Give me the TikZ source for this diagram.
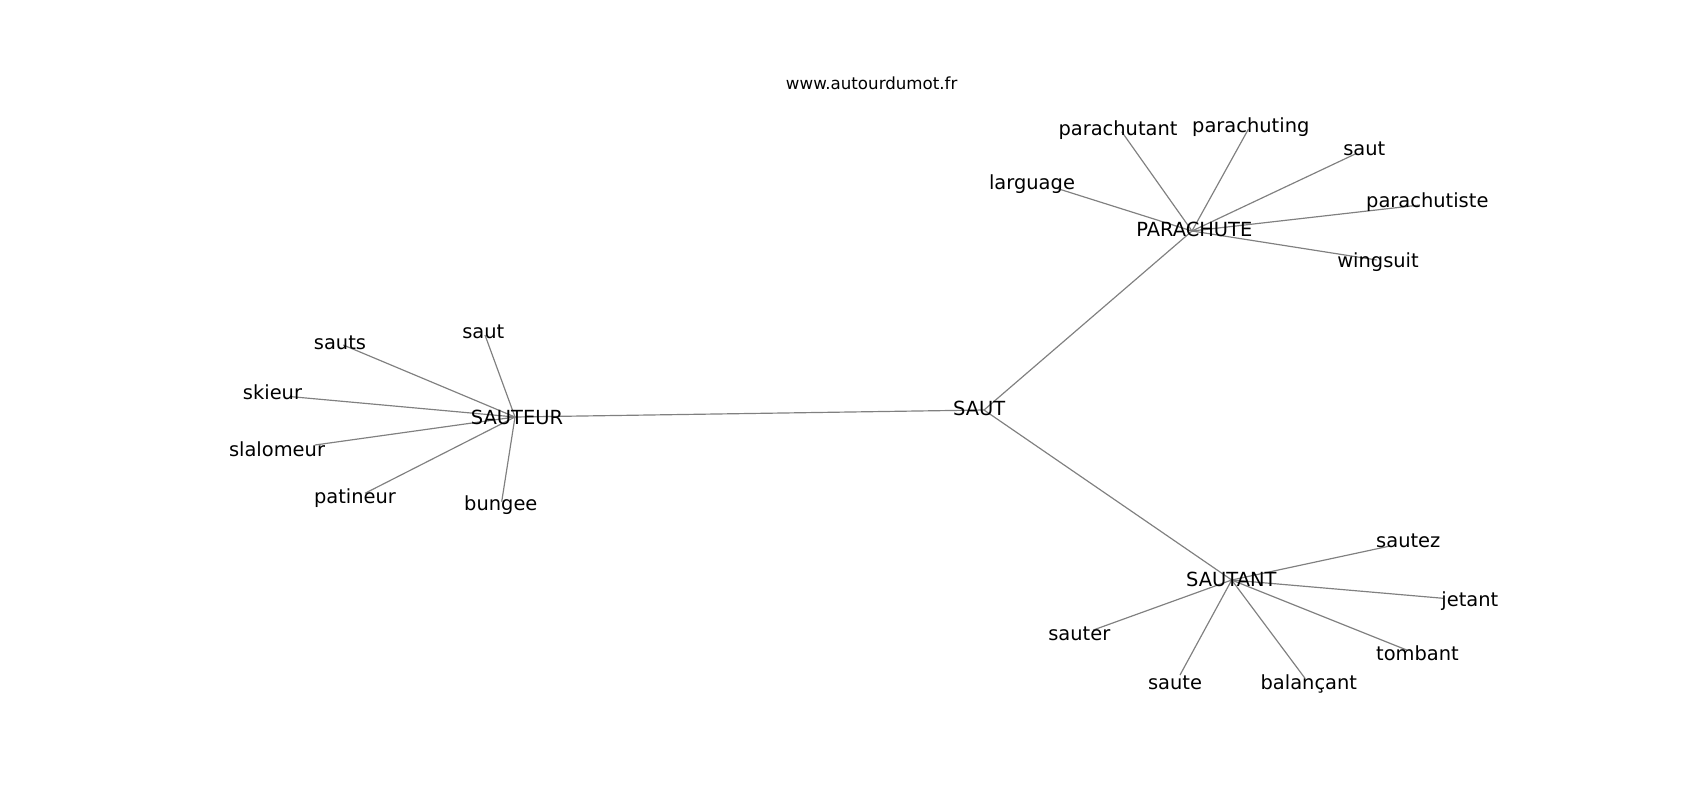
\documentclass[tikz,border=0pt]{standalone}
\usepackage{fontspec}
\setmainfont{DejaVu Sans}
\begin{document}
\begin{tikzpicture}[x=0.72pt,y=-0.72pt,
  lbl/.style={anchor=base,inner sep=0pt,yshift=-0.7pt,font=\fontsize{14}{16}\selectfont,text=black},
  site/.style={anchor=base,inner sep=0pt,yshift=-0.7pt,font=\fontsize{12}{14}\selectfont,text=black},
  edge/.style={draw={rgb,255:red,128;green,128;blue,128},line width=0.85pt}]
\useasboundingbox (0,0) rectangle (1700,800);
% hub points
\coordinate (pSAUT) at (984,410);
\coordinate (pSAUTEUR) at (515,417);
\coordinate (pPARACHUTE) at (1192,231);
\coordinate (pSAUTANT) at (1231.7,580);
% leaf points
\coordinate (pSautL) at (485,335);
\coordinate (pSauts) at (343.3,345);
\coordinate (pSkieur) at (291.7,396.7);
\coordinate (pSlalomeur) at (315,445);
\coordinate (pPatineur) at (365,493.3);
\coordinate (pBungee) at (501.7,501.7);
\coordinate (pLarguage) at (1056.7,188.3);
\coordinate (pParachutant) at (1121.7,131.7);
\coordinate (pParachuting) at (1248.3,129.3);
\coordinate (pSautR) at (1356.7,153.3);
\coordinate (pParachutiste) at (1420,205);
\coordinate (pWingsuit) at (1376.7,260);
\coordinate (pSautez) at (1390,546);
\coordinate (pJetant) at (1443.3,598.3);
\coordinate (pTombant) at (1406.7,650);
\coordinate (pBalancant) at (1305,678.3);
\coordinate (pSaute) at (1180,675);
\coordinate (pSauter) at (1093.3,630);
% edges
\draw[edge] (pSAUTEUR) -- (pSAUT);
\draw[edge] (pSAUT) -- (pPARACHUTE);
\draw[edge] (pSAUT) -- (pSAUTANT);
\foreach \p in {pSautL,pSauts,pSkieur,pSlalomeur,pPatineur,pBungee}
  \draw[edge] (pSAUTEUR) -- (\p);
\foreach \p in {pLarguage,pParachutant,pParachuting,pSautR,pParachutiste,pWingsuit}
  \draw[edge] (pPARACHUTE) -- (\p);
\foreach \p in {pSautez,pJetant,pTombant,pBalancant,pSaute,pSauter}
  \draw[edge] (pSAUTANT) -- (\p);
% labels
\node[site] (site) at (871.7,88.3) {www.autourdumot.fr};
\node[lbl] (SAUT) at (979.2,415) {SAUT};
\node[lbl] (SAUTEUR) at (517,424) {SAUTEUR};
\node[lbl] (PARACHUTE) at (1194.3,236) {PARACHUTE};
\node[lbl] (SAUTANT) at (1231.3,585.7) {SAUTANT};
\node[lbl] (sautL) at (483.3,337.3) {saut};
\node[lbl] (sauts) at (340,349) {sauts};
\node[lbl] (skieur) at (272.5,399) {skieur};
\node[lbl] (slalomeur) at (277,456) {slalomeur};
\node[lbl] (patineur) at (355,502.7) {patineur};
\node[lbl] (bungee) at (500.8,509.3) {bungee};
\node[lbl] (larguage) at (1032,188.3) {larguage};
\node[lbl] (parachutant) at (1118,134.5) {parachutant};
\node[lbl] (parachuting) at (1250.8,131.7) {parachuting};
\node[lbl] (sautR) at (1364.3,155) {saut};
\node[lbl] (parachutiste) at (1427.3,206.7) {parachutiste};
\node[lbl] (wingsuit) at (1378,266.7) {wingsuit};
\node[lbl] (sautez) at (1408.3,546.7) {sautez};
\node[lbl] (jetant) at (1469.8,606) {jetant};
\node[lbl] (tombant) at (1417.5,659.3) {tombant};
\node[lbl] (balancant) at (1308.8,688.3) {balançant};
\node[lbl] (saute) at (1175,688.3) {saute};
\node[lbl] (sauter) at (1079.3,640) {sauter};
\end{tikzpicture}
\end{document}
